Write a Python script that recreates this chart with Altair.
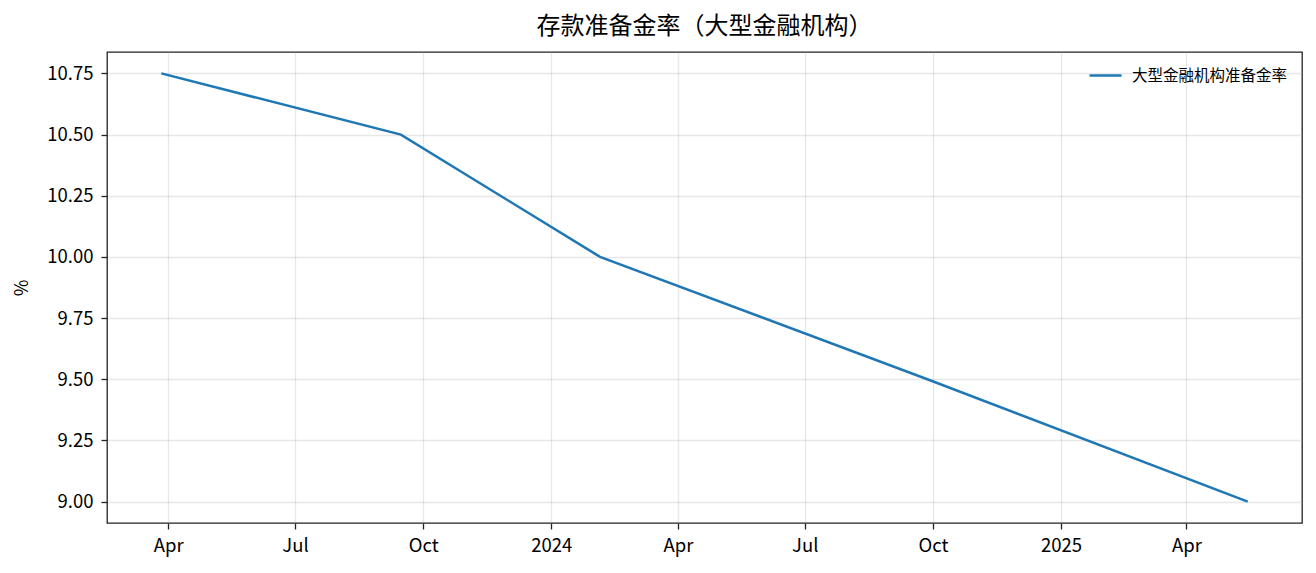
import altair as alt
import pandas as pd

dates = ["2023-03-27T00:00:00", "2023-09-15T00:00:00", "2024-02-05T00:00:00",
         "2024-09-27T00:00:00", "2025-05-15T00:00:00"]
rates = [10.75, 10.5, 10.0, 9.5, 9.0]
series_name = "大型金融机构准备金率"

x_ticks = [(2023, 4), (2023, 7), (2023, 10), (2024, 1), (2024, 4),
           (2024, 7), (2024, 10), (2025, 1), (2025, 4)]
y_ticks = [9.0, 9.25, 9.5, 9.75, 10.0, 10.25, 10.5, 10.75]

df = pd.DataFrame({"date": dates, "rate": rates, "series": [series_name] * len(dates)})

FONT = "Noto Sans CJK SC"

chart = alt.Chart(df).mark_line(strokeWidth=2.5).encode(
    x=alt.X("date:T",
            scale=alt.Scale(domain=[alt.DateTime(year=2023, month=2, date=16),
                                    alt.DateTime(year=2025, month=6, date=23)], nice=False),
            axis=alt.Axis(title=None,
                          values=[alt.DateTime(year=y, month=m, date=1) for y, m in x_ticks],
                          labelPadding=7,
                          labelExpr="month(datum.value) == 0 ? timeFormat(datum.value, '%Y') : timeFormat(datum.value, '%b')")),
    y=alt.Y("rate:Q",
            scale=alt.Scale(domain=[8.9125, 10.8375], nice=False, zero=False),
            axis=alt.Axis(title="%", values=y_ticks, format=".2f",
                          titleX=-85, titleY=235.5, titleAngle=270,
                          titleBaseline="middle", titleAlign="center", labelPadding=8)),
    color=alt.Color("series:N",
                    scale=alt.Scale(range=["#1f77b4"]),
                    legend=alt.Legend(title=None, orient="none", legendX=981, legendY=6,
                                      symbolType="stroke", symbolSize=1024,
                                      symbolStrokeWidth=2.5, labelOffset=9,
                                      labelFontSize=15.5, labelFont=FONT, padding=0,
                                      labelColor="#000")),
).properties(
    width=1195, height=471,
    title=alt.TitleParams("存款准备金率（大型金融机构）", fontSize=24, font=FONT,
                          fontWeight="normal", anchor="middle", offset=13, color="#000"),
    autosize=alt.AutoSizeParams(type="none"),
    padding={"left": 107, "top": 52, "right": 14, "bottom": 50},
).configure(
    font=FONT,
).configure_view(
    stroke="#222", strokeWidth=1.3,
).configure_axis(
    domain=False,
    grid=True, gridColor="#b0b0b0", gridOpacity=0.3, gridWidth=1.3,
    ticks=True, tickColor="#222", tickWidth=1.3, tickSize=6,
    labelFont=FONT, labelFontSize=18.5, labelColor="#000",
    titleFont=FONT, titleFontSize=18, titleColor="#000", titleFontWeight="normal",
)

chart.save("out.html", embed_options={"renderer": "svg", "actions": False})
